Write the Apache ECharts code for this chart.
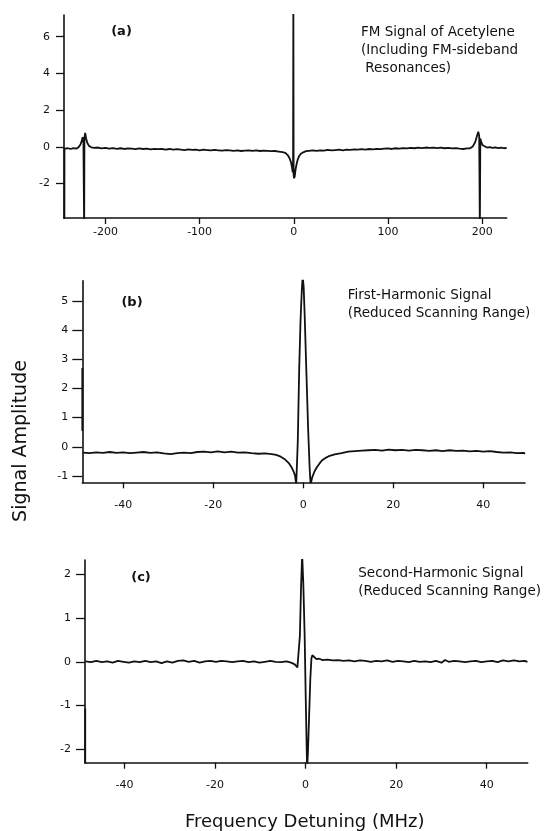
<!DOCTYPE html>
<html>
<head>
<meta charset="utf-8">
<script src="https://cdn.jsdelivr.net/npm/echarts@6/dist/echarts.min.js"></script>
<style>
html,body{margin:0;padding:0;background:#fff;}
#chart{width:550px;height:831px;}
</style>
</head>
<body>
<div id="chart"></div>
<script>
// ---------- Panel (a): FM signal of acetylene ----------
const aFreq = [-243.6,-243.5,-243,-240,-237,-234,-231,-228.5,-226.5,-225,-224.3,-223.4,-222.9,-222.6,-222.3,-221.5,-220.5,-219.3,-217.5,-215,-212,-208,-204,-200,-196,-192,-188,-184,-180,-176,-172,-168,-164,-160,-156,-152,-148,-144,-140,-136,-132,-128,-124,-120,-116,-112,-108,-104,-100,-96,-92,-88,-84,-80,-76,-72,-68,-64,-60,-56,-52,-48,-44,-40,-36,-32,-28,-24,-20,-16,-12,-9,-6.5,-4.5,-3,-2,-1.2,-0.8,-0.5,-0.2,0.3,1.0,1.8,2.8,4.0,5.5,7.5,10,13,16,20,24,28,32,36,40,44,48,52,56,60,64,68,72,76,80,84,88,92,96,100,104,108,112,116,120,124,128,132,136,140,144,148,152,156,160,164,168,172,176,180,184,187,190,192.5,194.5,195.8,196.8,197.5,198,199,200.5,202.5,205,208,211,214,217,220,223,226];
const aSignal = [-4.2,-0.10,-0.10,-0.08,-0.12,-0.07,-0.10,-0.02,0.12,0.35,0.52,0.35,0.40,-4.5,0.50,0.75,0.45,0.22,0.05,-0.03,-0.06,-0.04,-0.09,-0.06,-0.10,-0.07,-0.11,-0.08,-0.12,-0.09,-0.10,-0.13,-0.09,-0.12,-0.10,-0.14,-0.11,-0.13,-0.12,-0.15,-0.12,-0.16,-0.13,-0.15,-0.18,-0.14,-0.17,-0.15,-0.19,-0.16,-0.18,-0.20,-0.17,-0.19,-0.21,-0.18,-0.20,-0.22,-0.20,-0.23,-0.21,-0.19,-0.22,-0.20,-0.23,-0.21,-0.22,-0.24,-0.23,-0.26,-0.29,-0.33,-0.45,-0.62,-0.85,-1.10,-1.40,-1.00,8.0,-1.55,-1.72,-1.60,-1.25,-0.98,-0.72,-0.52,-0.38,-0.30,-0.24,-0.22,-0.20,-0.22,-0.19,-0.21,-0.17,-0.20,-0.18,-0.16,-0.19,-0.15,-0.17,-0.14,-0.16,-0.13,-0.15,-0.12,-0.14,-0.11,-0.13,-0.10,-0.09,-0.12,-0.08,-0.10,-0.07,-0.09,-0.06,-0.08,-0.05,-0.07,-0.04,-0.06,-0.05,-0.07,-0.04,-0.08,-0.06,-0.09,-0.07,-0.10,-0.12,-0.09,-0.08,0.02,0.25,0.60,0.82,0.60,-4.5,0.45,0.25,0.08,-0.02,-0.04,-0.02,-0.06,-0.03,-0.07,-0.04,-0.08,-0.06];
const aXTicks = [-200,-100,0,100,200];
const aYTicks = [-2,0,2,4,6];

// ---------- Panel (b): first-harmonic signal ----------
const bFreq = [-49.1,-49.1,-49.1,-49,-47.5,-46,-44.5,-43,-41.5,-40,-38.5,-37,-35.5,-34,-32.5,-31,-29.5,-28,-26.5,-25,-23.5,-22,-20.5,-19,-17.5,-16,-14.5,-13,-11.5,-10,-8.5,-7,-6,-5,-4,-3.2,-2.6,-2.1,-1.8,-1.55,-1.2,-0.9,-0.6,-0.3,-0.12,0.1,0.35,0.7,1.1,1.45,1.65,2.0,2.5,3.0,3.6,4.1,5,5.9,7,8.5,10,11.5,13,14.5,16,17.5,19,20.5,22,23.5,25,26.5,28,29.5,31,32.5,34,35.5,37,38.5,40,41.5,43,44.5,46,47.5,49,49.3];
const bSignal = [2.7,0.55,'-',-0.20,-0.22,-0.19,-0.21,-0.18,-0.21,-0.19,-0.22,-0.20,-0.18,-0.21,-0.19,-0.23,-0.25,-0.22,-0.20,-0.22,-0.18,-0.17,-0.19,-0.16,-0.19,-0.17,-0.20,-0.19,-0.22,-0.24,-0.23,-0.25,-0.28,-0.34,-0.44,-0.56,-0.70,-0.86,-1.00,-1.30,0.20,2.60,4.30,5.40,5.85,5.50,4.40,2.60,0.60,-0.80,-1.30,-1.05,-0.85,-0.71,-0.58,-0.48,-0.38,-0.31,-0.26,-0.22,-0.17,-0.15,-0.13,-0.12,-0.11,-0.13,-0.10,-0.12,-0.11,-0.13,-0.11,-0.12,-0.14,-0.12,-0.15,-0.12,-0.14,-0.13,-0.16,-0.14,-0.17,-0.15,-0.18,-0.20,-0.19,-0.22,-0.21,-0.24];
const bXTicks = [-40,-20,0,20,40];
const bYTicks = [-1,0,1,2,3,4,5];

// ---------- Panel (c): second-harmonic signal ----------
const cFreq = [-48.65,-48.65,-48.65,-48.6,-47.4,-46.2,-45,-43.8,-42.6,-41.4,-40.2,-39,-37.8,-36.6,-35.4,-34.2,-33,-31.8,-30.6,-29.4,-28.2,-27,-25.8,-24.6,-23.4,-22.2,-21,-19.8,-18.6,-17.4,-16.2,-15,-13.8,-12.6,-11.4,-10.2,-9,-7.8,-6.6,-5.4,-4.2,-3.2,-2.4,-1.8,-1.5,-1.25,-1.0,-0.75,-0.5,-0.2,0.05,0.25,0.35,0.55,0.8,1.05,1.3,1.5,1.9,2.4,3.0,3.8,4.8,6,7.2,8.4,9.6,10.8,12,13.2,14.4,15.6,16.8,18,19.2,20.4,21.6,22.8,24,25.2,26.4,27.6,28.8,30,30.8,31.6,32.8,34,35.2,36.4,37.6,38.8,40,41.2,42.4,43.6,44.8,46,47.2,48.4,49];
const cSignal = [-2.5,-1.07,'-',0.01,-0.01,0.02,-0.01,0.01,-0.02,0.02,0.00,-0.02,0.01,-0.01,0.02,-0.01,0.01,-0.03,0.01,-0.02,0.02,0.03,0.00,0.02,-0.02,0.01,0.02,0.00,0.02,0.01,-0.01,0.01,0.02,-0.01,0.01,-0.02,0.00,0.02,0.00,-0.01,0.01,-0.02,-0.06,-0.13,-0.12,0.60,1.70,2.45,1.80,0.60,-0.90,-2.00,-2.45,-2.00,-1.20,-0.40,0.08,0.15,0.12,0.06,0.07,0.04,0.05,0.03,0.04,0.02,0.03,0.01,0.03,0.02,0.00,0.02,0.01,0.03,0.00,0.02,0.01,-0.01,0.02,0.00,0.01,-0.01,0.02,-0.02,0.04,0.00,0.02,0.01,-0.01,0.01,0.02,-0.01,0.01,0.02,-0.01,0.03,0.01,0.03,0.01,0.02,0.00];
const cXTicks = [-40,-20,0,20,40];
const cYTicks = [-2,-1,0,1,2];

// ---------- text ----------
const panelTags = ['(a)','(b)','(c)'];
const panelNotes = [
  'FM Signal of Acetylene\n(Including FM-sideband\n Resonances)',
  'First-Harmonic Signal\n(Reduced Scanning Range)',
  'Second-Harmonic Signal\n(Reduced Scanning Range)'
];
const yTitle = 'Signal Amplitude';
const xTitle = 'Frequency Detuning (MHz)';

const FONT = 'DejaVu Sans';
const INK = '#111';

function pairs(xs, ys){ return xs.map((x,i)=>[x, ys[i]]); }

const grids = [
  {left:64, top:15, width:442.7, height:203},
  {left:82.3, top:280.7, width:442.7, height:201.6},
  {left:85, top:560, width:442.7, height:202.7}
];
const xRanges = [[-244,226],[-49.1,49.3],[-48.7,49.05]];
const yRanges = [[-3.88,7.18],[-1.22,5.7],[-2.31,2.33]];
const xTicks = [aXTicks,bXTicks,cXTicks];
const yTicks = [aYTicks,bYTicks,cYTicks];
const xLabelMargin = [9,17,17];
const yTickLen = [8,10,9];
const datasets = [pairs(aFreq,aSignal), pairs(bFreq,bSignal), pairs(cFreq,cSignal)];

const axisLineStyle = {color:INK, width:1.6};

const option = {
  animation:false,
  backgroundColor:'#fff',
  grid: grids.map(g=>Object.assign({containLabel:false}, g)),
  xAxis: grids.map((g,i)=>({
    type:'value', gridIndex:i, min:xRanges[i][0], max:xRanges[i][1],
    axisLine:{show:true, onZero:false, lineStyle:axisLineStyle},
    axisTick:{show:true, length:6, inside:false, customValues:xTicks[i], lineStyle:{color:INK,width:1.3}},
    axisLabel:{show:true, customValues:xTicks[i], margin:xLabelMargin[i], color:INK, fontFamily:FONT, fontSize:11},
    splitLine:{show:false}
  })),
  yAxis: grids.map((g,i)=>({
    type:'value', gridIndex:i, min:yRanges[i][0], max:yRanges[i][1],
    axisLine:{show:true, onZero:false, lineStyle:axisLineStyle},
    axisTick:{show:true, length:yTickLen[i], inside:false, customValues:yTicks[i], lineStyle:{color:INK,width:1.3}},
    axisLabel:{show:true, customValues:yTicks[i], margin:14, color:INK, fontFamily:FONT, fontSize:11},
    splitLine:{show:false}
  })),
  series: datasets.map((d,i)=>({
    type:'line', xAxisIndex:i, yAxisIndex:i, data:d,
    showSymbol:false, symbol:'none', clip:true, connectNulls:false,
    lineStyle:{color:INK, width:1.8}, z:3
  })),
  graphic: [
    {type:'text', x:121.5, y:32, style:{text:panelTags[0], fill:INK, font:'bold 13px "DejaVu Sans"', textAlign:'center', textVerticalAlign:'middle'}},
    {type:'text', x:132, y:302.7, style:{text:panelTags[1], fill:INK, font:'bold 13px "DejaVu Sans"', textAlign:'center', textVerticalAlign:'middle'}},
    {type:'text', x:141, y:577.7, style:{text:panelTags[2], fill:INK, font:'bold 13px "DejaVu Sans"', textAlign:'center', textVerticalAlign:'middle'}},
    {type:'text', x:361, y:23, style:{text:panelNotes[0], fill:INK, font:'13.5px "DejaVu Sans"', lineHeight:18, textAlign:'left', textVerticalAlign:'top'}},
    {type:'text', x:347.7, y:286, style:{text:panelNotes[1], fill:INK, font:'13.5px "DejaVu Sans"', lineHeight:18.3, textAlign:'left', textVerticalAlign:'top'}},
    {type:'text', x:358.3, y:564.3, style:{text:panelNotes[2], fill:INK, font:'13.5px "DejaVu Sans"', lineHeight:18.3, textAlign:'left', textVerticalAlign:'top'}},
    {type:'text', x:21, y:441, rotation:Math.PI/2, style:{text:yTitle, fill:INK, font:'19px "DejaVu Sans"', textAlign:'center', textVerticalAlign:'middle'}},
    {type:'text', x:304.7, y:822.5, style:{text:xTitle, fill:INK, font:'18px "DejaVu Sans"', textAlign:'center', textVerticalAlign:'middle'}}
  ]
};

const chart = echarts.init(document.getElementById('chart'), null, {renderer:'canvas'});
chart.setOption(option);
</script>
</body>
</html>
